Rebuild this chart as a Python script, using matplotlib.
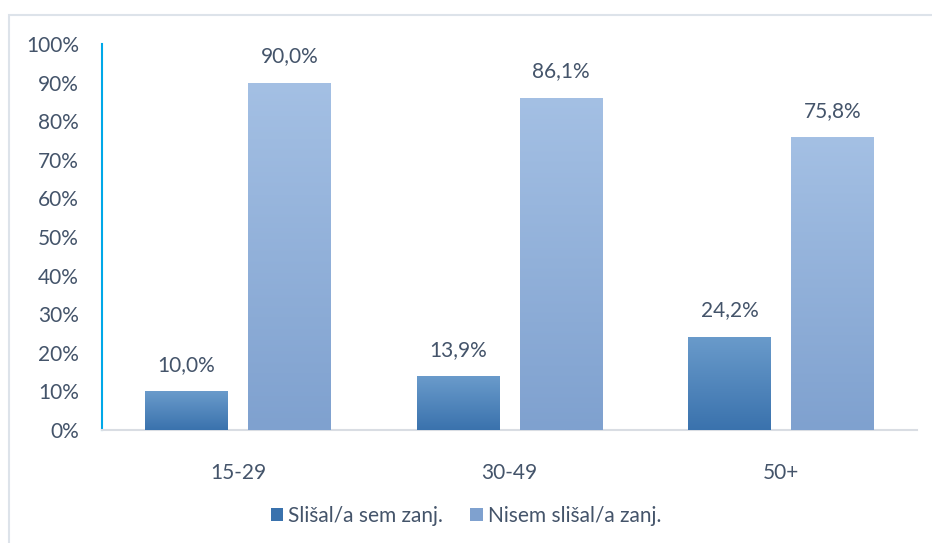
import numpy as np
import matplotlib.pyplot as plt
from matplotlib.patches import Rectangle
from matplotlib.colors import LinearSegmentedColormap

categories = ["15-29", "30-49", "50+"]
heard = [10.0, 13.9, 24.2]
not_heard = [90.0, 86.1, 75.8]
series_names = ["Slišal/a sem zanj.", "Nisem slišal/a zanj."]
y_ticks = [0, 10, 20, 30, 40, 50, 60, 70, 80, 90, 100]

text_col = "#44546a"
dark_top, dark_bot = "#6a9bcb", "#3a72ad"
light_top, light_bot = "#a4c0e4", "#7fa1cf"

plt.rcParams['font.family'] = ['Lato', 'DejaVu Sans']

fig = plt.figure(figsize=(9.32, 5.43), dpi=100)
ax = fig.add_axes([102/932, 1-430/543, 815/932, 386/543])

x = np.arange(len(categories))
w = 0.305
off = (w + 0.074) / 2
b1 = ax.bar(x - off, heard, w, color=dark_bot, label=series_names[0], zorder=2)
b2 = ax.bar(x + off, not_heard, w, color=light_bot, label=series_names[1], zorder=2)

# vertical gradient on each bar
grad = np.linspace(0, 1, 256).reshape(-1, 1)
for bars, top, bot in [(b1, dark_top, dark_bot), (b2, light_top, light_bot)]:
    cmap = LinearSegmentedColormap.from_list("g", [bot, top])
    for rect in bars:
        x0, y0 = rect.get_x(), rect.get_y()
        im = ax.imshow(grad, cmap=cmap, aspect='auto', origin='lower',
                       extent=[x0, x0 + rect.get_width(), y0, y0 + rect.get_height()],
                       zorder=3)
        im.set_clip_path(rect)

for bars, vals in [(b1, heard), (b2, not_heard)]:
    for rect, v in zip(bars, vals):
        ax.text(rect.get_x() + rect.get_width()/2, v + 6.8,
                f"{v:.1f}%".replace(".", ","), ha='center', va='center',
                fontsize=15, color=text_col)

ax.set_xlim(-0.5, len(categories) - 0.5)
ax.set_ylim(0, 100)
ax.set_yticks(y_ticks)
ax.set_yticklabels([f"{t}%" for t in y_ticks])
ax.set_xticks(x)
ax.set_xticklabels(categories)
ax.tick_params(axis='both', length=0, labelsize=15, labelcolor=text_col)
ax.tick_params(axis='y', pad=16.5)
ax.tick_params(axis='x', pad=24)
for s in ['top', 'right']:
    ax.spines[s].set_visible(False)
ax.spines['left'].set_color('#00a8e8')
ax.spines['left'].set_linewidth(1.5)
ax.spines['bottom'].set_color('#d9dde3')
ax.spines['bottom'].set_linewidth(1.5)

leg = fig.legend(handles=[b1, b2], labels=series_names, loc='center',
                 bbox_to_anchor=(0.5, 1-516/543), ncol=2, frameon=False,
                 fontsize=15, handlelength=0.6, handleheight=0.6,
                 handletextpad=0.25, columnspacing=1.3)
for t in leg.get_texts():
    t.set_color(text_col)

fig.patches.append(Rectangle((8.5/932, -0.1), 1.0, 1.1 - 15/543,
                             transform=fig.transFigure, fill=False,
                             edgecolor='#dde3ea', linewidth=1.5))

fig.savefig("out.png", dpi=100)
